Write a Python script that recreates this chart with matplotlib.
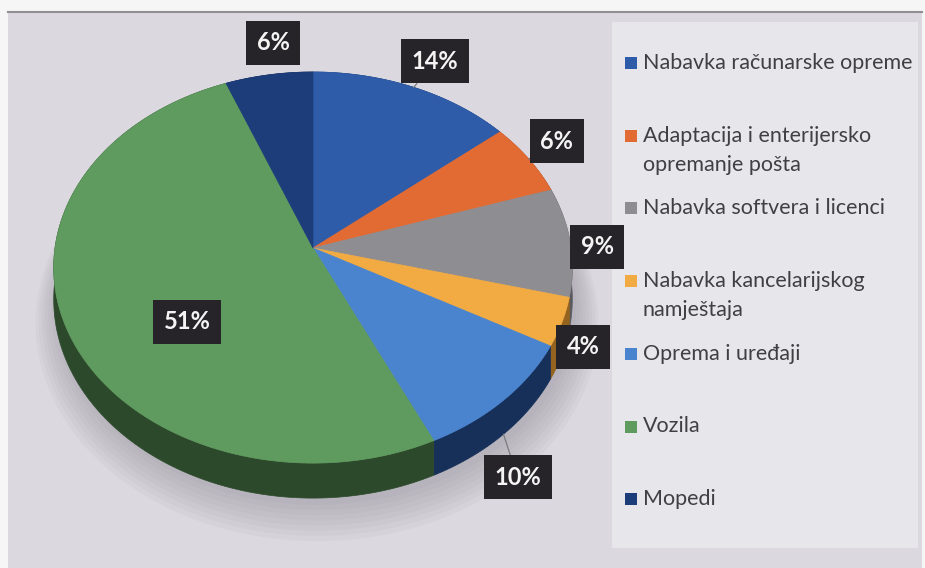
import numpy as np
import matplotlib.pyplot as plt
from matplotlib.patches import Polygon, Rectangle

# podaci
kategorije = ['Nabavka računarske opreme',
              'Adaptacija i enterijersko\nopremanje pošta',
              'Nabavka softvera i licenci',
              'Nabavka kancelarijskog\nnamještaja',
              'Oprema i uređaji',
              'Vozila',
              'Mopedi']
udjeli = [14, 6, 9, 4, 10, 51, 6]

boje = ['#2f5ca8', '#e26b33', '#8e8d92', '#f1ab42', '#4a84cf', '#5f9a5e', '#1c3c7a']
boje_strana = ['#1d3b6e', '#8c3f1a', '#5a595d', '#94631d', '#16305a', '#2c4a2b', '#0f2145']

# pomak natpisa od ruba (px) i da li ima liniju
pomaci = [(21, -26), (28, -18), (27, 5), (21, -8), (14, 43), (121, -39), (4, -32)]
linije = [True, True, True, True, True, False, False]

plt.rcParams['font.family'] = ['Lato', 'DejaVu Sans']

fig = plt.figure(figsize=(9.25, 5.68), dpi=100, facecolor='#f6f6f7')
ax = fig.add_axes([0, 0, 1, 1])
ax.set_xlim(0, 925)
ax.set_ylim(568, 0)
ax.axis('off')

# pozadina
ax.add_patch(Rectangle((8, 12), 914, 560, fc='#dbd8e0', ec='none', zorder=0))
ax.plot([8, 922], [12, 12], color='#8f8f93', lw=1.5, zorder=1)
ax.add_patch(Rectangle((612, 22), 306, 526, fc='#e7e6eb', ec='none', zorder=0.5))

# "3D" pita u perspektivi
cx, cy = 313, 248
rx, ry = 258, 193.6
persp = 0.1
dubina = 31.5


def projekcija(u, w, spust=0.0):
    d = 1 + persp * w
    return cx + rx * u / d, cy - ry * w / d + spust / d


# sjena ispod pite
t = np.linspace(0, 2 * np.pi, 300)
for k in range(8):
    s = 1.0 + 0.012 * k
    x, y = projekcija(s * np.sin(t), s * np.cos(t), dubina + 6 + 2 * k)
    ax.add_patch(Polygon(np.column_stack([x + 4, y]), closed=True,
                         fc='#8f8c96', ec='none', alpha=0.07, zorder=1))

granice = np.concatenate([[0], np.cumsum(udjeli)]) / sum(udjeli) * 2 * np.pi

# bocne strane
for i in range(len(udjeli)):
    t = np.linspace(granice[i], granice[i + 1], 120)
    xg, yg = projekcija(np.sin(t), np.cos(t))
    xd, yd = projekcija(np.sin(t), np.cos(t), dubina)
    pts = np.column_stack([np.concatenate([xg, xd[::-1]]),
                           np.concatenate([yg, yd[::-1]])])
    ax.add_patch(Polygon(pts, closed=True, fc=boje_strana[i],
                         ec=boje_strana[i], lw=0.5, zorder=2))

# gornja ploha
for i in range(len(udjeli)):
    t = np.linspace(granice[i], granice[i + 1], 120)
    xg, yg = projekcija(np.sin(t), np.cos(t))
    pts = np.column_stack([np.concatenate([[cx], xg]), np.concatenate([[cy], yg])])
    ax.add_patch(Polygon(pts, closed=True, fc=boje[i], ec=boje[i],
                         lw=0.5, zorder=3))

# natpisi s postocima
for i, v in enumerate(udjeli):
    sred = (granice[i] + granice[i + 1]) / 2
    u, w = np.sin(sred), np.cos(sred)
    spust = dubina if w < 0 else 0.0
    xa, ya = projekcija(u, w, spust)
    dx, dy = pomaci[i]
    strelica = dict(arrowstyle='-', color='#7a7a7e', lw=0.9,
                    shrinkA=0, shrinkB=0) if linije[i] else None
    ax.annotate(f'{v}%', xy=(xa, ya), xytext=(xa + dx, ya + dy),
                textcoords='data', ha='center', va='center',
                fontsize=17, fontweight='bold', color='#f4f4f4',
                bbox=dict(boxstyle='square,pad=0.45', fc='#262428', ec='none'),
                arrowprops=strelica, zorder=5)

# legenda
for i, naziv in enumerate(kategorije):
    y0 = 63 + i * 72.7
    ax.add_patch(Rectangle((625, y0 - 6), 12, 12, fc=boje[i], ec='none', zorder=4))
    for j, red in enumerate(naziv.split('\n')):
        ax.text(643, y0 + j * 29, red, ha='left', va='center',
                fontsize=15.5, color='#404044', zorder=4)

fig.savefig('out.png', dpi=100, facecolor=fig.get_facecolor())
